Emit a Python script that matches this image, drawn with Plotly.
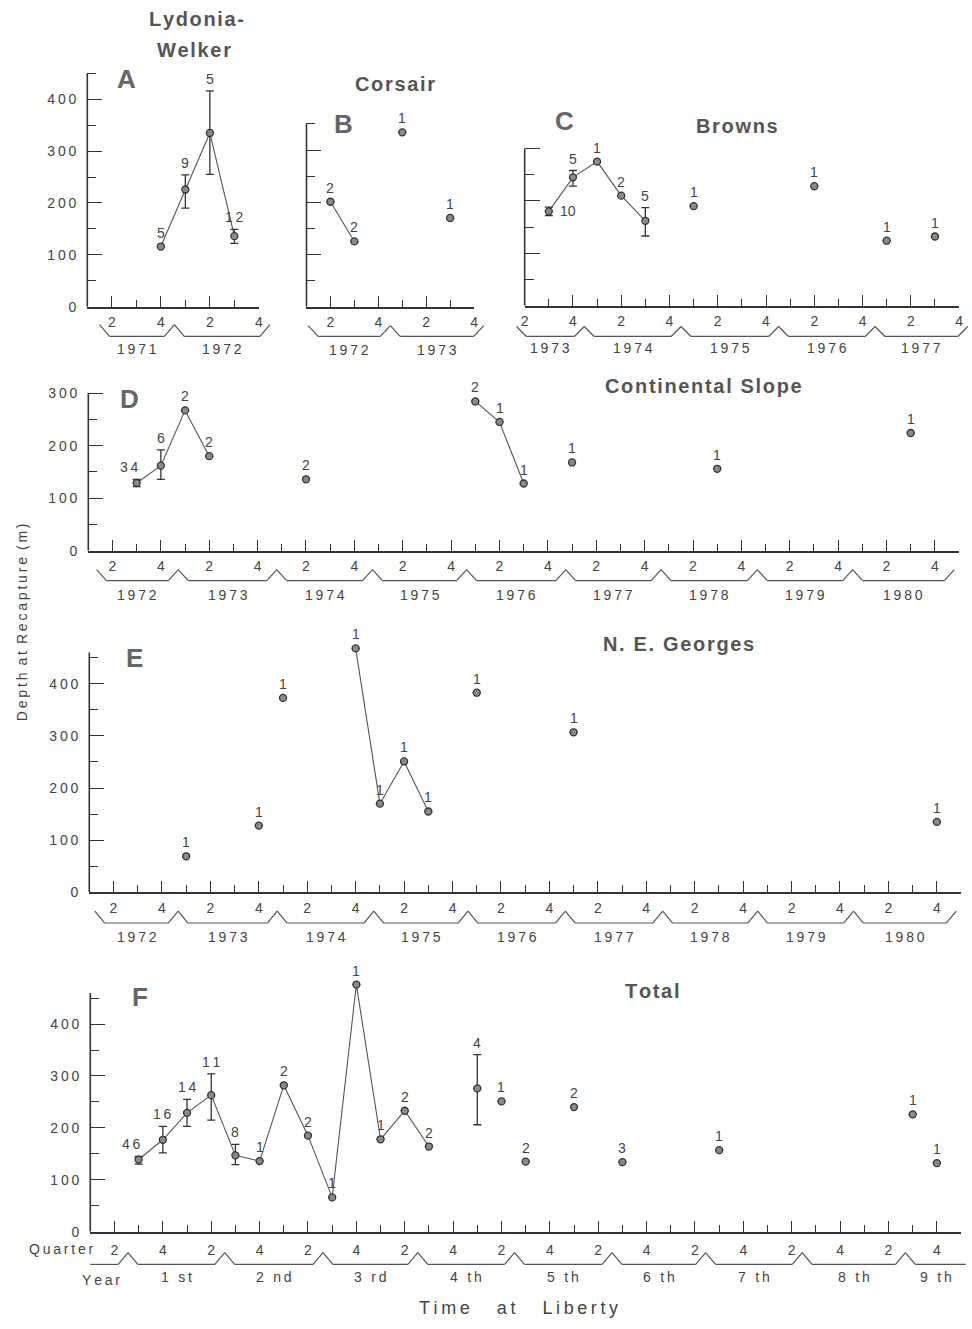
import plotly.graph_objects as go

W, H = 972, 1329

# ------------------------------------------------------------------ data
# quarter index: 1 = first quarter of the first year shown on that panel
A_quarter = [4, 5, 6, 7]
A_depth = [116, 226, 335, 136]
A_n = [5, 9, 5, 12]
A_low = [None, 190, 255, 122]
A_high = [None, 254, 416, 149]
A_link = [1, 1, 1, 1]
A_years = ["1971", "1972"]

B_quarter = [2, 3, 5, 7]
B_depth = [201, 125, 334, 170]
B_n = [2, 2, 1, 1]
B_low = [None, None, None, None]
B_high = [None, None, None, None]
B_link = [1, 1, 0, 0]
B_years = ["1972", "1973"]

C_quarter = [3, 4, 5, 6, 7, 9, 14, 17, 19]
C_depth = [180, 245, 275, 210, 162, 190, 228, 124, 132]
C_n = [10, 5, 1, 2, 5, 1, 1, 1, 1]
C_low = [172, 228, None, None, 133, None, None, None, None]
C_high = [188, 258, None, None, 187, None, None, None, None]
C_link = [1, 1, 1, 1, 1, 0, 0, 0, 0]
C_years = ["1973", "1974", "1975", "1976", "1977"]

D_quarter = [3, 4, 5, 6, 10, 17, 18, 19, 21, 27, 35]
D_depth = [129, 162, 267, 180, 136, 284, 245, 128, 168, 156, 224]
D_n = [34, 6, 2, 2, 2, 2, 1, 1, 1, 1, 1]
D_low = [122, 136, None, None, None, None, None, None, None, None, None]
D_high = [136, 192, None, None, None, None, None, None, None, None, None]
D_link = [1, 1, 1, 1, 0, 2, 2, 2, 0, 0, 0]
D_years = ["1972", "1973", "1974", "1975", "1976", "1977", "1978", "1979", "1980"]

E_quarter = [5, 8, 9, 12, 13, 14, 15, 17, 21, 36]
E_depth = [69, 128, 373, 468, 170, 251, 155, 383, 307, 135]
E_n = [1, 1, 1, 1, 1, 1, 1, 1, 1, 1]
E_low = [None] * 10
E_high = [None] * 10
E_link = [0, 0, 0, 1, 1, 1, 1, 0, 0, 0]
E_years = ["1972", "1973", "1974", "1975", "1976", "1977", "1978", "1979", "1980"]

F_quarter = [3, 4, 5, 6, 7, 8, 9, 10, 11, 12, 13, 14, 15, 17, 18, 19, 21, 23, 27, 35, 36]
F_depth = [139, 177, 229, 263, 147, 136, 282, 185, 66, 476, 178, 233, 164, 276, 251, 135, 240, 134, 157, 226, 132]
F_n = [46, 16, 14, 11, 8, 1, 2, 2, 1, 1, 1, 2, 2, 4, 1, 2, 2, 3, 1, 1, 1]
F_low = [130, 152, 203, 215, 129] + [None] * 8 + [206] + [None] * 7
F_high = [145, 203, 255, 304, 168] + [None] * 8 + [341] + [None] * 7
F_link = [1] * 13 + [0] * 8
F_years = ["1 st", "2 nd", "3 rd", "4 th", "5 th", "6 th", "7 th", "8 th", "9 th"]

Y_TICKS = [0, 100, 200, 300, 400]

# ------------------------------------------------------------------ style / layout (pixels)
INK = "#333333"
TXT = "#444444"
FONT = "Liberation Sans, Arial, sans-serif"

panels = [
    dict(key="A", q=A_quarter, d=A_depth, n=A_n, lo=A_low, hi=A_high, link=A_link, years=A_years,
         xpx=(84, 257), xr=(1, 8), axis_y=307, ppu=0.5225, ytop=450, yr=470, ylab=True,
         title=["Lydonia-", "Welker"], title_xy=[(194, 17), (192, 48)], letter_xy=(124, 78),
         br=dict(start=1.5, sdiag=True, end=8.45, ediag=True, peaks=[4.55], base=30, peak=18, lab=43),
         special={}),
    dict(key="B", q=B_quarter, d=B_depth, n=B_n, lo=B_low, hi=B_high, link=B_link, years=B_years,
         xpx=(305, 474), xr=(1, 8), axis_y=307, ppu=0.526, ytop=350, yr=362, ylab=False,
         title=["Corsair"], title_xy=[(394, 83)], letter_xy=(342, 123),
         br=dict(start=1.07, sdiag=True, end=8.4, ediag=True, peaks=[4.5], base=30, peak=19, lab=44),
         special={}),
    dict(key="C", q=C_quarter, d=C_depth, n=C_n, lo=C_low, hi=C_high, link=C_link, years=C_years,
         xpx=(525, 963), xr=(2, 20), axis_y=306, ppu=0.528, ytop=300, yr=312, ylab=False,
         title=["Browns"], title_xy=[(739, 125)], letter_xy=(565, 120),
         br=dict(start=1.66, sdiag=True, end=20.36, ediag=True, peaks=[4.47, 8.48, 12.52, 16.52],
                 base=31, peak=21, lab=43),
         special={0: "right"}),
    dict(key="D", q=D_quarter, d=D_depth, n=D_n, lo=D_low, hi=D_high, link=D_link, years=D_years,
         xpx=(85, 963), xr=(1, 37), axis_y=553, ppu=0.53, ytop=300, yr=312, ylab=True,
         title=["Continental Slope"], title_xy=[(705, 387)], letter_xy=(127, 400),
         br=dict(start=1.34, sdiag=True, end=36.8, ediag=True,
                 peaks=[4.72, 8.79, 12.75, 16.64, 20.74, 24.68, 28.66, 32.6], base=30, peak=19, lab=44),
         special={0: "left"}),
    dict(key="E", q=E_quarter, d=E_depth, n=E_n, lo=E_low, hi=E_high, link=E_link, years=E_years,
         xpx=(86, 965), xr=(1, 37), axis_y=897, ppu=0.525, ytop=460, yr=495, ylab=True,
         title=["N. E. Georges"], title_xy=[(680, 647)], letter_xy=(132, 661),
         br=dict(start=1.23, sdiag=True, end=36.8, ediag=True,
                 peaks=[4.67, 8.76, 12.75, 16.64, 20.66, 24.68, 28.6, 32.56], base=31, peak=19, lab=45),
         special={}),
    dict(key="F", q=F_quarter, d=F_depth, n=F_n, lo=F_low, hi=F_high, link=F_link, years=F_years,
         xpx=(87, 965), xr=(1, 37), axis_y=1239, ppu=0.523, ytop=460, yr=495, ylab=True,
         title=["Total"], title_xy=[(653, 997)], letter_xy=(137, 1003),
         br=dict(start=1.0, sdiag=False, end=37.2, ediag=False,
                 peaks=[2.56, 6.56, 10.62, 14.54, 18.54, 22.57, 26.44, 30.43, 34.7], base=33, peak=21, lab=46,
                 skip_first=True),
         special={0: "left"}),
]


def sp(s, gap="\u2009"):
    return gap.join(list(s))


def px2x(x):
    return x / W


def px2y(y):
    return 1 - y / H


fig = go.Figure()
shapes = []
annotations = []

for k, p in enumerate(panels, start=1):
    sfx = "" if k == 1 else str(k)
    xname, yname = "x" + sfx, "y" + sfx
    x0, x1 = p["xpx"]
    q0, q1 = p["xr"]
    ppq = (x1 - x0) / (q1 - q0)

    def qx(q, x0=x0, q0=q0, ppq=ppq):
        return x0 + (q - q0) * ppq

    ay = p["axis_y"]
    top_px = ay - p["yr"] * p["ppu"]

    # axes
    even = [q for q in range(int(q0), int(q1) + 1) if q % 2 == 0]
    odd = [q for q in range(int(q0), int(q1) + 1) if q % 2 == 1]
    fig.layout["xaxis" + sfx] = dict(
        domain=[px2x(x0), px2x(x1)], range=[q0, q1], anchor=yname,
        showline=True, linecolor=INK, linewidth=1.6, showgrid=False, zeroline=False,
        ticks="inside", ticklen=11, tickwidth=1.4, tickcolor=INK,
        tickmode="array", tickvals=even, ticktext=[str((q - 1) % 4 + 1) for q in even],
        minor=dict(tickmode="array", tickvals=odd, ticks="inside", ticklen=7, tickwidth=1.3, tickcolor=INK),
        tickfont=dict(family=FONT, size=14, color=TXT), ticklabelstandoff=2 if k < 6 else 5,
        fixedrange=True,
    )
    majors = [v for v in Y_TICKS if v <= p["ytop"]]
    minors = [v + 50 for v in Y_TICKS if v + 50 <= p["ytop"]]
    fig.layout["yaxis" + sfx] = dict(
        domain=[px2y(ay), px2y(top_px)], range=[0, p["yr"]], anchor=xname,
        showline=False, showgrid=False, zeroline=False,
        ticks="inside", ticklen=15, tickwidth=1.4, tickcolor=INK,
        tickmode="array", tickvals=majors,
        ticktext=[sp(str(v)) if p["ylab"] else "" for v in majors],
        minor=dict(tickmode="array", tickvals=minors, ticks="inside", ticklen=9, tickwidth=1.3, tickcolor=INK),
        tickfont=dict(family=FONT, size=14, color=TXT), ticklabelstandoff=10,
        fixedrange=True,
    )
    # y axis line up to its top tick
    shapes.append(dict(type="line", xref=xname + " domain", yref=yname, x0=0, x1=0, y0=0, y1=p["ytop"],
                       line=dict(color=INK, width=1.6)))

    # connecting lines
    groups = sorted(set(g for g in p["link"] if g))
    for g in groups:
        idx = [i for i, v in enumerate(p["link"]) if v == g]
        fig.add_trace(go.Scatter(x=[p["q"][i] for i in idx], y=[p["d"][i] for i in idx],
                                 mode="lines", line=dict(color="#555", width=1.1),
                                 xaxis=xname, yaxis=yname, showlegend=False, hoverinfo="skip"))
    # markers with error bars
    err_p = [(h - d) if h is not None else None for h, d in zip(p["hi"], p["d"])]
    err_m = [(d - l) if l is not None else None for l, d in zip(p["lo"], p["d"])]
    fig.add_trace(go.Scatter(
        x=p["q"], y=p["d"], mode="markers", cliponaxis=False,
        marker=dict(size=7, color="#8a8a8a", line=dict(color="#333", width=1.3)),
        error_y=dict(type="data", array=err_p, arrayminus=err_m, symmetric=False,
                     color=INK, thickness=1.3, width=4),
        xaxis=xname, yaxis=yname, showlegend=False))

    # count labels
    for i, (q, d, n) in enumerate(zip(p["q"], p["d"], p["n"])):
        mode = p["special"].get(i, "above")
        ytop = p["hi"][i] if p["hi"][i] is not None else d
        if mode == "right":
            annotations.append(dict(x=q, y=d, xref=xname, yref=yname, text=str(n), showarrow=False,
                                    xanchor="left", yanchor="middle", xshift=9,
                                    font=dict(family=FONT, size=14, color=TXT)))
        else:
            annotations.append(dict(x=q, y=ytop, xref=xname, yref=yname, text=sp(str(n)), showarrow=False,
                                    xanchor="center", yanchor="bottom",
                                    xshift=-7 if mode == "left" else 0,
                                    yshift=2 if p["hi"][i] is not None else 4,
                                    font=dict(family=FONT, size=14, color=TXT)))

    # year brackets
    br = p["br"]
    base_y = ay + br["base"]
    peak_y = ay + br["peak"]
    dx = 10
    pts = []
    if br["sdiag"]:
        pts += [(qx(br["start"]), peak_y), (qx(br["start"]) + dx, base_y)]
    else:
        pts += [(qx(br["start"]), base_y)]
    for b in br["peaks"]:
        pts += [(qx(b) - dx, base_y), (qx(b), peak_y), (qx(b) + dx, base_y)]
    if br["ediag"]:
        pts += [(qx(br["end"]) - dx, base_y), (qx(br["end"]), peak_y)]
    else:
        pts += [(qx(br["end"]), base_y)]
    for (xa, ya), (xb, yb) in zip(pts[:-1], pts[1:]):
        shapes.append(dict(type="line", xref="paper", yref="paper",
                           x0=px2x(xa), y0=px2y(ya), x1=px2x(xb), y1=px2y(yb),
                           line=dict(color="#555", width=1.2)))
    edges = [br["start"]] + br["peaks"] + [br["end"]]
    segs = list(zip(edges[:-1], edges[1:]))
    if br.get("skip_first"):
        segs = segs[1:]
    for (ea, eb), yr_lab in zip(segs, p["years"]):
        xm = (qx(ea) + qx(eb)) / 2
        annotations.append(dict(x=px2x(xm), y=px2y(ay + br["lab"]), xref="paper", yref="paper",
                                text=sp(yr_lab), showarrow=False, xanchor="center", yanchor="middle",
                                font=dict(family=FONT, size=14, color=TXT)))

    # titles and panel letters
    for t, (tx, ty) in zip(p["title"], p["title_xy"]):
        annotations.append(dict(x=px2x(tx), y=px2y(ty), xref="paper", yref="paper", text="<b>" + sp(t, "\u200a") + "</b>",
                                showarrow=False, xanchor="center", yanchor="middle",
                                font=dict(family=FONT, size=20, color="#555")))
    lx, ly = p["letter_xy"]
    annotations.append(dict(x=px2x(lx), y=px2y(ly), xref="paper", yref="paper", text="<b>" + p["key"] + "</b>",
                            showarrow=False, xanchor="center", yanchor="middle",
                            font=dict(family=FONT, size=26, color="#666")))

# extra texts
annotations.append(dict(x=px2x(93), y=px2y(1256), xref="paper", yref="paper", text=sp("Quarter"),
                        showarrow=False, xanchor="right", yanchor="middle",
                        font=dict(family=FONT, size=14, color=TXT)))
annotations.append(dict(x=px2x(98), y=px2y(1288), xref="paper", yref="paper", text=sp("Year"),
                        showarrow=False, xanchor="center", yanchor="middle",
                        font=dict(family=FONT, size=14, color=TXT)))
annotations.append(dict(x=px2x(519), y=px2y(1316), xref="paper", yref="paper",
                        text=sp("Time") + "\u2003\u2002" + sp("at") + "\u2003\u2002" + sp("Liberty"),
                        showarrow=False, xanchor="center", yanchor="middle",
                        font=dict(family=FONT, size=18, color=TXT)))
annotations.append(dict(x=px2x(18), y=px2y(625), xref="paper", yref="paper",
                        text=sp("Depth") + "\u2002" + sp("at") + "\u2002" + sp("Recapture") + "\u2002" + sp("(m)"),
                        textangle=-90, showarrow=False, xanchor="center", yanchor="middle",
                        font=dict(family=FONT, size=14, color=TXT)))

fig.update_layout(width=W, height=H, margin=dict(l=0, r=0, t=0, b=0),
                  paper_bgcolor="white", plot_bgcolor="white",
                  shapes=shapes, annotations=annotations, showlegend=False)

fig.write_html("out.html", config={"displayModeBar": False},
               post_script="document.body.style.margin='0px';document.body.style.overflow='hidden';")
